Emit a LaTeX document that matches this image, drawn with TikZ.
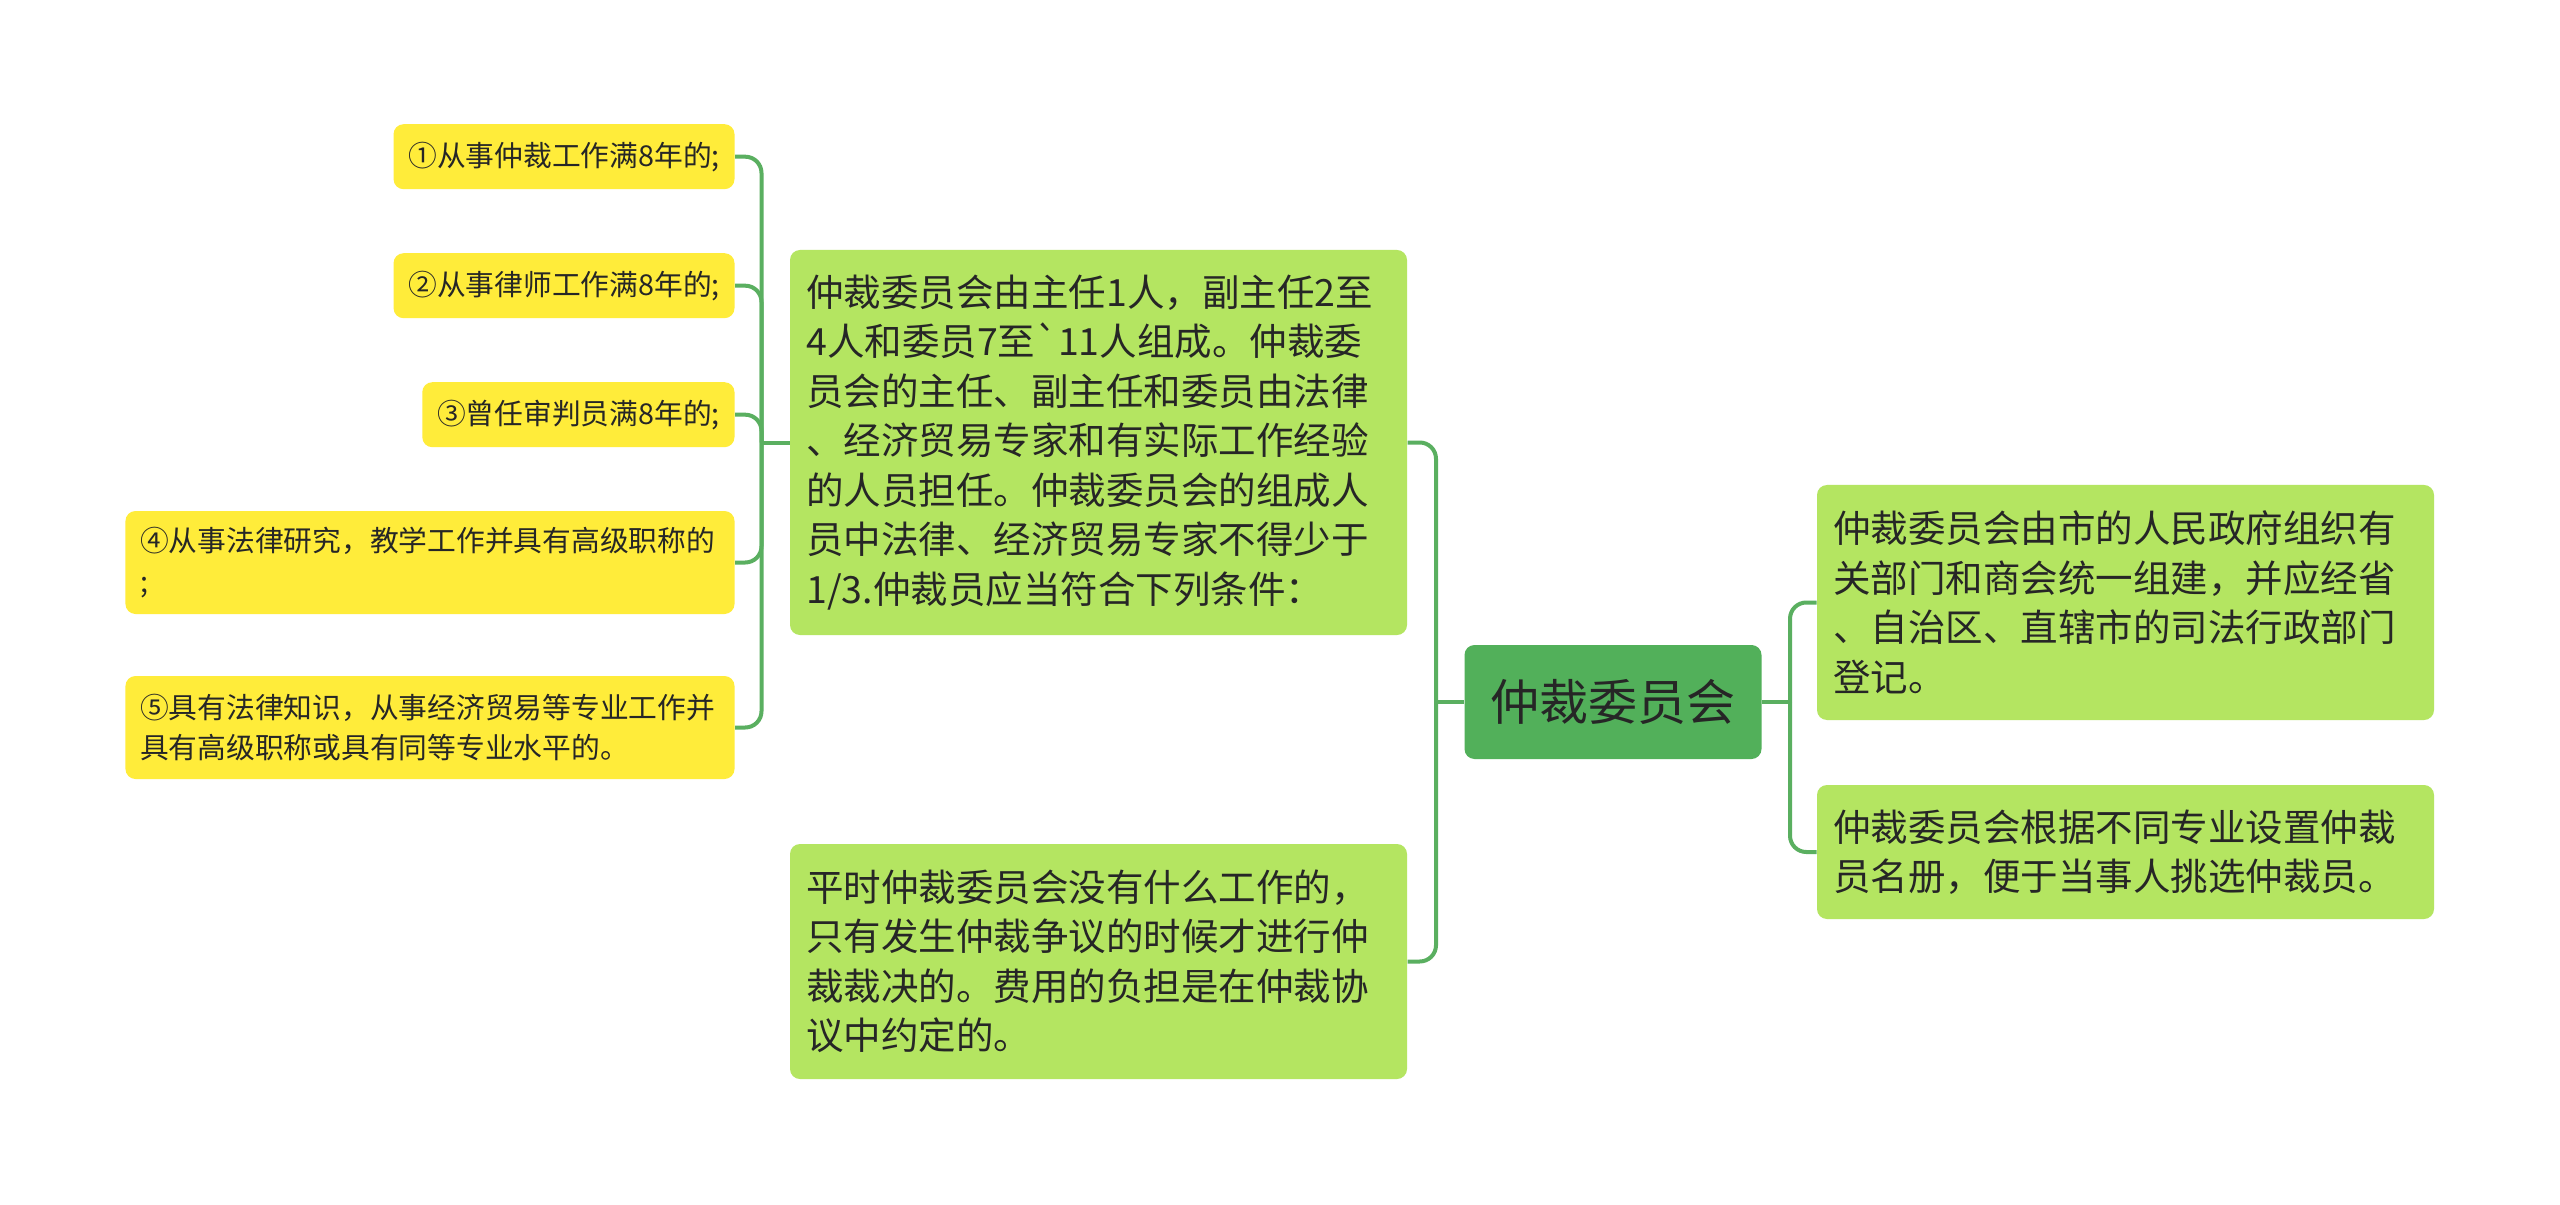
\documentclass[tikz,border=0pt]{standalone}
\usepackage{fontspec}
\setmainfont{Noto Sans CJK SC}
\usetikzlibrary{calc}
\definecolor{rootc}{HTML}{52B05A}
\definecolor{lgreen}{HTML}{B4E561}
\definecolor{yel}{HTML}{FFEC3A}
\definecolor{linec}{HTML}{5AAF60}
\definecolor{txt}{HTML}{262626}
\begin{document}
\begin{tikzpicture}[x=0.4pt,y=-0.4pt,
  gbox/.style={fill=lgreen, rounded corners=4pt, inner xsep=6.5pt, inner ysep=0pt,
    minimum width=246.8pt, text width=233.8pt, align=left, text=txt,
    font=\fontsize{15pt}{19.8pt}\selectfont},
  ybox/.style={fill=yel, rounded corners=4pt, inner xsep=5.9pt, inner ysep=0pt,
    align=left, text=txt, anchor=east, font=\fontsize{11.5pt}{16.3pt}\selectfont},
  rootbox/.style={fill=rootc, rounded corners=4pt, minimum width=118.8pt,
    minimum height=45.6pt, text=txt, font=\fontsize{19.6pt}{24pt}\selectfont},
  conn/.style={draw=linec, line width=1.6pt, rounded corners=6.5pt}]
\useasboundingbox[fill=white] (0,0) rectangle (2560,1205);

\node[rootbox] (root) at (1613,702) {仲裁委员会};

\node[gbox, minimum height=154pt] (A) at (1098.5,442.5) {仲裁委员会由主任1人，副主任2至\\4人和委员7至\textasciigrave11人组成。仲裁委\\员会的主任、副主任和委员由法律\\、经济贸易专家和有实际工作经验\\的人员担任。仲裁委员会的组成人\\员中法律、经济贸易专家不得少于\\1/3.仲裁员应当符合下列条件：};

\node[gbox, minimum height=94pt] (B) at (1098.5,961.5) {平时仲裁委员会没有什么工作的，\\只有发生仲裁争议的时候才进行仲\\裁裁决的。费用的负担是在仲裁协\\议中约定的。};

\node[gbox, minimum height=94pt] (R1) at (2125.5,602.5) {仲裁委员会由市的人民政府组织有\\关部门和商会统一组建，并应经省\\、自治区、直辖市的司法行政部门\\登记。};

\node[gbox, minimum height=53.6pt] (R2) at (2125.5,852) {仲裁委员会根据不同专业设置仲裁\\员名册，便于当事人挑选仲裁员。};

\node[ybox, minimum height=26pt] (Y1) at (735,156.7) {①从事仲裁工作满8年的;};
\node[ybox, minimum height=26pt] (Y2) at (735,285.7) {②从事律师工作满8年的;};
\node[ybox, minimum height=26pt] (Y3) at (735,414.7) {③曾任审判员满8年的;};
\node[ybox, minimum height=41.2pt, text width=231.8pt] (Y4) at (735,562.5) {④从事法律研究，教学工作并具有高级职称的\\;};
\node[ybox, minimum height=41.2pt, text width=231.8pt] (Y5) at (735,727.5) {⑤具有法律知识，从事经济贸易等专业工作并\\具有高级职称或具有同等专业水平的。};

% root to left
\draw[conn] (root.west) -- ($(root.west)+(-28,0)$) coordinate (lj);
\draw[conn] (lj) |- (A.east);
\draw[conn] (lj) |- (B.east);
% root to right
\draw[conn] (root.east) -- ($(root.east)+(28,0)$) coordinate (rj);
\draw[conn] (rj) |- (R1.west);
\draw[conn] (rj) |- (R2.west);
% A to yellows
\draw[conn] (A.west) -- ($(A.west)+(-28,0)$) coordinate (aj);
\draw[conn] (aj) |- (Y1.east);
\draw[conn] (aj) |- (Y2.east);
\draw[conn] (aj) |- (Y3.east);
\draw[conn] (aj) |- (Y4.east);
\draw[conn] (aj) |- (Y5.east);
\end{tikzpicture}
\end{document}
